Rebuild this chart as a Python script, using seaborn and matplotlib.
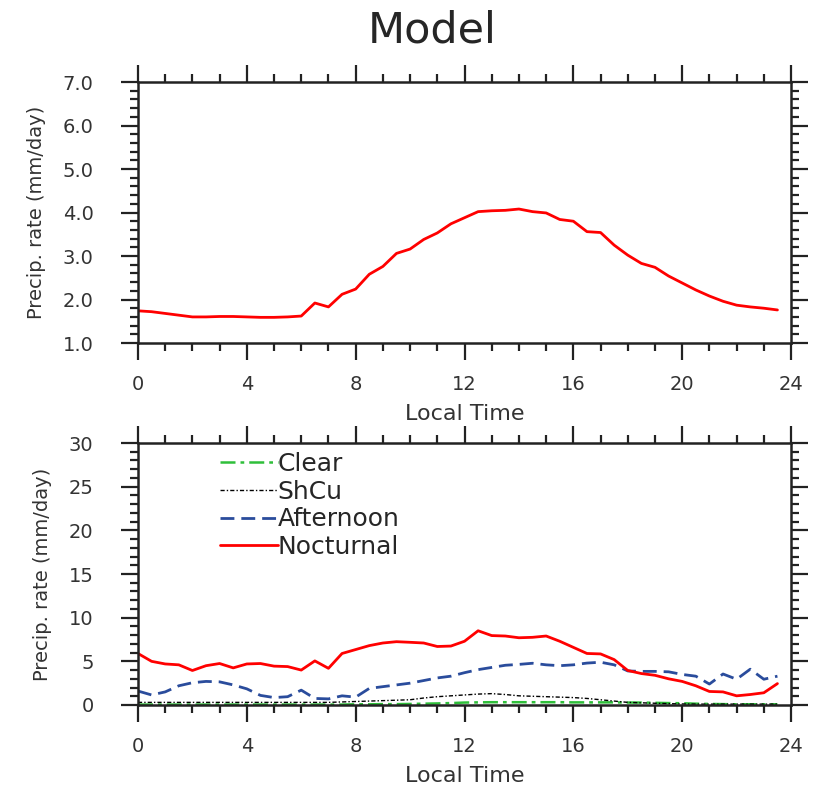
import numpy as np
import pandas as pd
import matplotlib
matplotlib.use('Agg')
import matplotlib.pyplot as plt
import seaborn as sns
from matplotlib.ticker import MultipleLocator, FormatStrFormatter

# Local time, half-hourly
hours = np.arange(0, 24, 0.5)

# Top panel: model mean precipitation rate (mm/day)
model_mean = [1.74, 1.72, 1.68, 1.64, 1.60, 1.60, 1.61, 1.61, 1.60, 1.59, 1.59, 1.60,
              1.62, 1.92, 1.83, 2.12, 2.24, 2.58, 2.76, 3.06, 3.16, 3.38, 3.53, 3.74,
              3.88, 4.02, 4.04, 4.05, 4.08, 4.02, 3.99, 3.84, 3.80, 3.56, 3.54, 3.25,
              3.02, 2.83, 2.74, 2.54, 2.38, 2.22, 2.08, 1.96, 1.87, 1.83, 1.80, 1.76]

# Bottom panel: regimes
clear = [0.05, 0.05, 0.05, 0.05, 0.05, 0.05, 0.05, 0.05, 0.05, 0.05, 0.05, 0.05,
         0.05, 0.05, 0.05, 0.05, 0.08, 0.08, 0.1, 0.1, 0.12, 0.15, 0.18, 0.22,
         0.28, 0.3, 0.32, 0.32, 0.32, 0.32, 0.32, 0.32, 0.3, 0.3, 0.3, 0.3,
         0.28, 0.28, 0.25, 0.22, 0.2, 0.15, 0.12, 0.1, 0.08, 0.08, 0.08, 0.08]
shcu = [0.3, 0.3, 0.3, 0.3, 0.3, 0.3, 0.3, 0.3, 0.3, 0.3, 0.3, 0.3,
        0.3, 0.3, 0.3, 0.35, 0.4, 0.45, 0.5, 0.55, 0.6, 0.8, 0.95, 1.05,
        1.15, 1.25, 1.3, 1.2, 1.05, 1.0, 0.95, 0.9, 0.85, 0.75, 0.6, 0.45,
        0.3, 0.25, 0.2, 0.15, 0.12, 0.1, 0.1, 0.1, 0.1, 0.1, 0.1, 0.1]
afternoon = [1.6, 1.15, 1.5, 2.2, 2.55, 2.7, 2.65, 2.3, 1.85, 1.1, 0.85, 0.95,
             1.7, 0.75, 0.7, 1.05, 0.9, 1.9, 2.1, 2.3, 2.5, 2.8, 3.1, 3.3,
             3.7, 4.05, 4.3, 4.55, 4.65, 4.78, 4.6, 4.5, 4.6, 4.8, 4.9, 4.6,
             3.9, 3.85, 3.85, 3.8, 3.5, 3.3, 2.4, 3.55, 2.95, 4.1, 2.95, 3.3]
nocturnal = [5.9, 5.0, 4.7, 4.6, 3.95, 4.5, 4.75, 4.25, 4.7, 4.75, 4.45, 4.4,
             4.0, 5.05, 4.2, 5.9, 6.35, 6.8, 7.1, 7.25, 7.18, 7.1, 6.7, 6.75,
             7.3, 8.5, 7.95, 7.9, 7.7, 7.75, 7.9, 7.3, 6.6, 5.9, 5.85, 5.2,
             3.95, 3.6, 3.4, 3.0, 2.7, 2.2, 1.55, 1.5, 1.05, 1.2, 1.4, 2.45]

sns.set_style("ticks")
plt.rcParams['font.family'] = ['DejaVu Sans']

fig = plt.figure(figsize=(8.15, 7.9), dpi=100)
ax1 = fig.add_axes([0.1693, 0.5658, 0.8013, 0.3304])
ax2 = fig.add_axes([0.1693, 0.1076, 0.8013, 0.3316])

# Top panel
sns.lineplot(x=hours, y=model_mean, ax=ax1, color='red', linewidth=2)

# Bottom panel
sns.lineplot(x=hours, y=clear, ax=ax2, color='#2fbf3a', linewidth=1.8,
             linestyle=(0, (6, 2, 1.5, 2)), label='Clear')
sns.lineplot(x=hours, y=shcu, ax=ax2, color='black', linewidth=1.0,
             linestyle=(0, (3, 1.5, 1, 1.5)), label='ShCu')
sns.lineplot(x=hours, y=afternoon, ax=ax2, color='#2a4c9c', linewidth=2,
             linestyle=(0, (5, 2.5)), label='Afternoon')
sns.lineplot(x=hours, y=nocturnal, ax=ax2, color='red', linewidth=2,
             label='Nocturnal')

for ax, ylim, ymaj, ymin, fmt in [(ax1, (1, 7), 1, 0.2, '%.1f'),
                                  (ax2, (0, 30), 5, 1, '%d')]:
    ax.set_xlim(0, 24)
    ax.set_ylim(*ylim)
    ax.xaxis.set_major_locator(MultipleLocator(4))
    ax.xaxis.set_minor_locator(MultipleLocator(1))
    ax.yaxis.set_major_locator(MultipleLocator(ymaj))
    ax.yaxis.set_minor_locator(MultipleLocator(ymin))
    ax.yaxis.set_major_formatter(FormatStrFormatter(fmt))
    ax.tick_params(which='both', direction='out', top=True, right=True,
                   width=1.6, color='#222222')
    ax.tick_params(which='major', length=12, labelsize=14, labelcolor='#333333')
    ax.tick_params(which='minor', length=6)
    ax.tick_params(axis='x', which='major', pad=11)
    ax.tick_params(axis='y', which='major', pad=20)
    for sp in ax.spines.values():
        sp.set_visible(True)
        sp.set_linewidth(1.8)
        sp.set_color('#222222')
    ax.set_xlabel('Local Time', fontsize=16, labelpad=7, color='#333333')
    ax.set_ylabel('Precip. rate (mm/day)', fontsize=14, labelpad=12, color='#333333')

ax2.legend(loc='upper left', bbox_to_anchor=(0.1256, 0.966), frameon=False,
           fontsize=18, handlelength=2.3, handletextpad=0.0,
           labelspacing=0.15, borderaxespad=0, borderpad=0)

fig.text(0.53, 0.962, 'Model', ha='center', va='center', fontsize=31)

fig.savefig('out.png', dpi=100)
